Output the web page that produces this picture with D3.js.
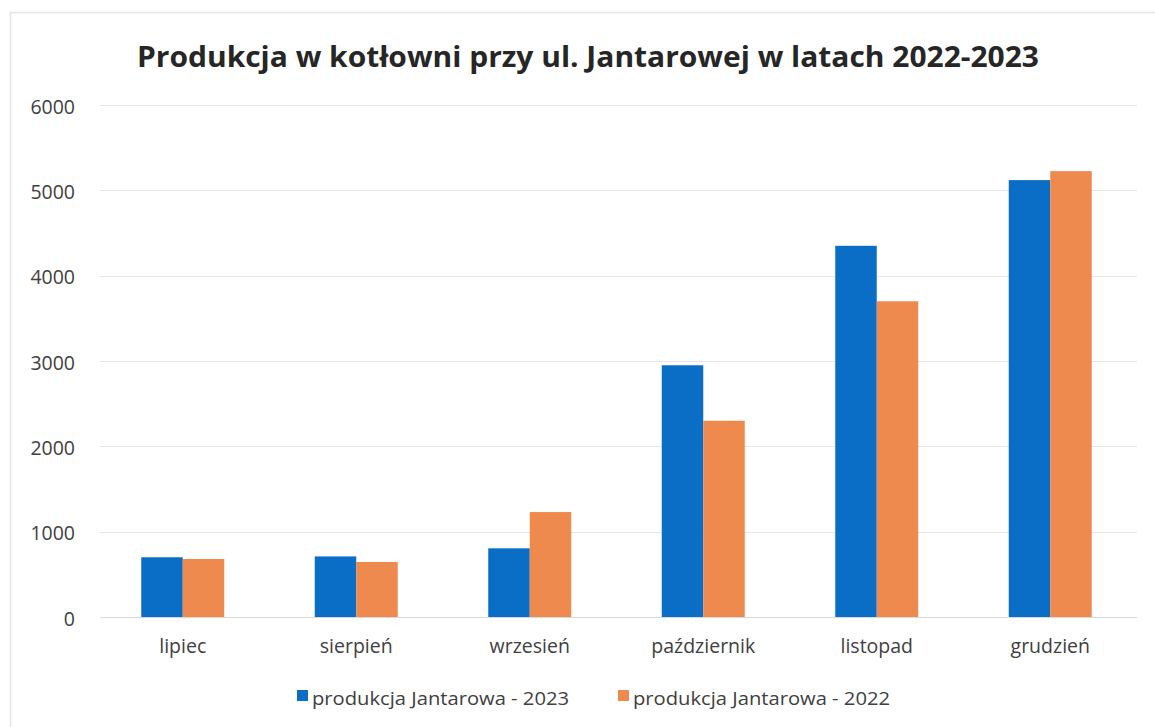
<!DOCTYPE html>
<html><head><meta charset="utf-8">
<script src="https://cdn.jsdelivr.net/npm/d3@7"></script>
<style>html,body{margin:0;padding:0;background:#fff;}svg{display:block;}</style>
</head><body>
<script>
const categories = ["lipiec","sierpień","wrzesień","październik","listopad","grudzień"];
const series2023 = [700, 710, 805, 2950, 4350, 5120];
const series2022 = [680, 645, 1230, 2300, 3700, 5225];
const seriesNames = ["produkcja Jantarowa - 2023","produkcja Jantarowa - 2022"];
const yTicks = [0,1000,2000,3000,4000,5000,6000];
const title = "Produkcja w kotłowni przy ul. Jantarowej w latach 2022-2023";

const W = 1155, H = 727;
const colors = ["#0b6ec6", "#ef8a4f"];
const svg = d3.select("body").append("svg").attr("width", W).attr("height", H);
svg.append("rect").attr("width", W).attr("height", H).attr("fill", "#fff");
svg.append("path").attr("d", `M10.5,${H} V12.5 H${W}`).attr("fill","none").attr("stroke","#e4e4e4").attr("stroke-width",1.5);

const plot = {left: 96, right: 1137, top: 105, bottom: 617};
const x = d3.scaleBand().domain(categories).range([plot.left, plot.right]).paddingInner(0).paddingOuter(0);
const y = d3.scaleLinear().domain([0, 6000]).range([plot.bottom, plot.top]);
const barW = 41.5;
const x1 = d3.scaleBand().domain([0,1]).range([x.bandwidth()/2 - barW, x.bandwidth()/2 + barW]);

// gridlines
svg.append("g").selectAll("line").data(yTicks).join("line")
  .attr("x1", plot.left + 4).attr("x2", plot.right)
  .attr("y1", d => Math.round(y(d)) + 0.5).attr("y2", d => Math.round(y(d)) + 0.5)
  .attr("stroke", d => d === 0 ? "#d9d9d9" : "#e6e6e6").attr("stroke-width", 1.2);

// y axis labels via d3 axis
const yAxis = d3.axisLeft(y).tickValues(yTicks).tickSize(0).tickPadding(0).tickFormat(d3.format("d"));
const gy = svg.append("g").attr("transform", `translate(75,2)`).call(yAxis);
gy.select(".domain").remove();
gy.attr("font-size", null).attr("font-family", null);
gy.selectAll("text").style("font-family", "'Open Sans', sans-serif").style("font-size", "19.5px").attr("fill", "#404040");

// bars
const data = categories.map((c, i) => ({c, vals: [series2023[i], series2022[i]]}));
const groups = svg.append("g").selectAll("g").data(data).join("g")
  .attr("transform", d => `translate(${x(d.c)},0)`);
groups.selectAll("rect").data(d => d.vals.map((v, k) => ({v, k}))).join("rect")
  .attr("x", d => x1(d.k)).attr("width", x1.bandwidth())
  .attr("y", d => y(d.v)).attr("height", d => y(0) - y(d.v))
  .attr("fill", d => colors[d.k]);

// x axis labels
const xAxis = d3.axisBottom(x).tickSize(0).tickPadding(0);
const gx = svg.append("g").attr("transform", `translate(0,${plot.bottom + 22})`).call(xAxis);
gx.select(".domain").remove();
gx.attr("font-size", null).attr("font-family", null);
gx.selectAll("text").style("font-family", "'Open Sans', sans-serif").style("font-size", "19.5px").attr("fill", "#404040");

// title
svg.append("text").attr("x", 588).attr("y", 67).attr("text-anchor", "middle")
  .attr("font-family", "'Open Sans', sans-serif").attr("font-weight", "bold").attr("font-size", 28)
  .attr("fill", "#262626").attr("textLength", 902).attr("lengthAdjust", "spacingAndGlyphs").text(title);

// legend
const legX = [297, 618];
const leg = svg.append("g").selectAll("g").data(seriesNames).join("g")
  .attr("transform", (d, i) => `translate(${legX[i]},690)`);
leg.append("rect").attr("width", 11).attr("height", 11).attr("y", 0).attr("fill", (d, i) => colors[i]);
leg.append("text").attr("x", 15).attr("y", 15).attr("font-family", "'Open Sans', sans-serif")
  .attr("font-size", 18).attr("fill", "#404040").attr("textLength", 257).attr("lengthAdjust","spacingAndGlyphs").text(d => d);
</script>
</body></html>
